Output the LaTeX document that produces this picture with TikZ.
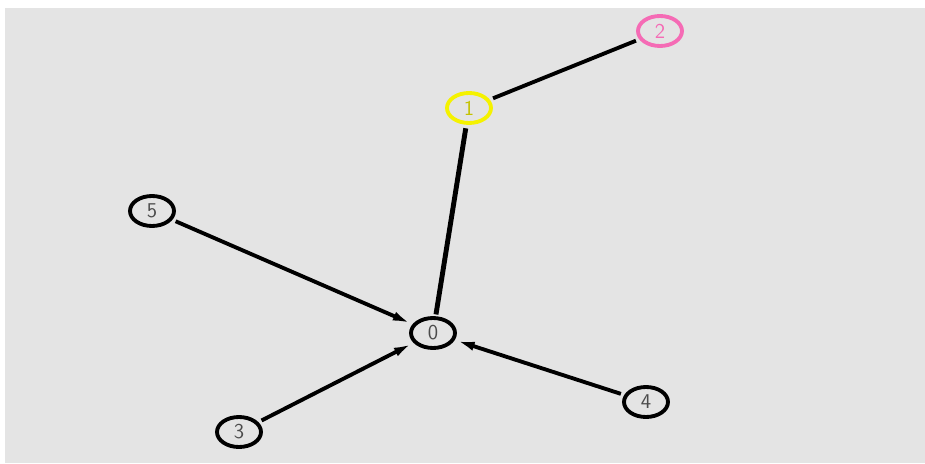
\documentclass[tikz,border=0pt]{standalone}
\usepackage{xcolor}
\usepackage{tikz}
\usetikzlibrary{arrows.meta, shapes.geometric}

\definecolor{bggray}{HTML}{E4E4E4}
\definecolor{vyellow}{HTML}{F5F200}
\definecolor{vpink}{HTML}{F56BB5}

\begin{document}
\begin{tikzpicture}[
  font=\sffamily\large,
  vert/.style={ellipse, draw=black, line width=2.2pt, fill=bggray,
    minimum width=0.88cm, minimum height=0.6cm, inner sep=0pt,
    text=black!70},
  edge/.style={line width=2.2pt, shorten <=2pt},
  into/.style={edge, -{Latex[length=4mm, width=1.8mm]}},
]
  % canvas
  \useasboundingbox (0,0) rectangle (18.5,9.26);
  \fill[bggray] (0.1,0) rectangle (18.5,9.1);

  % vertices
  \node[vert] (v0) at (8.66,2.60) {0};
  \node[vert, draw=vyellow, text=vyellow!80!black] (v1) at (9.38,7.10) {1};
  \node[vert, draw=vpink, text=vpink] (v2) at (13.20,8.64) {2};
  \node[vert] (v5) at (3.04,5.04) {5};
  \node[vert] (v3) at (4.78,0.62) {3};
  \node[vert] (v4) at (12.92,1.22) {4};

  % edges
  \draw[edge, shorten >=2pt] (v1) -- (v2);
  \draw[edge, line width=2.8pt, shorten >=1pt] (v1) -- (v0);
  \draw[into] (v5) -- (v0);
  \draw[into] (v3) -- (v0);
  \draw[into] (v4) -- (v0);
\end{tikzpicture}
\end{document}
